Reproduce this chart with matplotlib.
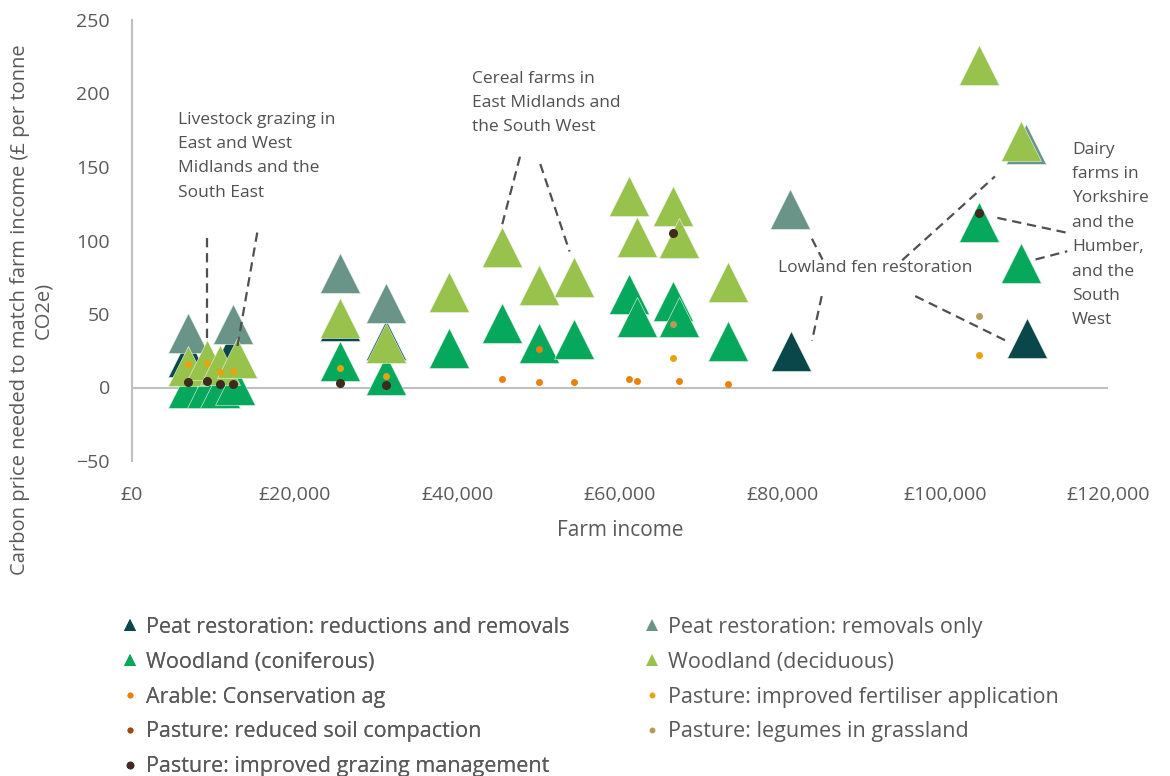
import matplotlib as mpl
import matplotlib.pyplot as plt
from matplotlib.lines import Line2D

DPI = 100
TEXT = '#595959'
mpl.rcParams['font.family'] = ['Open Sans', 'DejaVu Sans']

# farm income (GBP) and carbon price (GBP per tonne CO2e)
peat_rr_x = [6900, 12200, 25600, 31200, 81000, 110000]
peat_rr_y = [21, 24, 45.5, 32, 25, 34]

peat_rem_x = [6900, 12400, 25550, 31200, 80960, 109950]
peat_rem_y = [37, 43, 78, 57.5, 121.7, 165.6]

conif_x = [6900, 9200, 10800, 12700, 25550, 31200, 38940, 45450, 50000, 54300,
           61060, 62040, 66460, 67200, 73220, 104180, 109340]
conif_y = [0, 0, 0, 2, 17.7, 8.5, 26.6, 44, 30, 32.7,
           63.4, 47.7, 59, 47.7, 31.4, 112.5, 84.5]

decid_x = [6900, 9200, 10800, 12900, 25550, 31200, 38940, 45450, 50000, 54300,
           61060, 62040, 66460, 67200, 73220, 104180, 109340]
decid_y = [14.5, 18.5, 15, 20, 47, 30, 64.7, 95.4, 69.5, 75,
           130.4, 102.6, 123.4, 102, 72, 219.5, 168]

arable_x = [45450, 50000, 50000, 54300, 61060, 62040, 67200, 73220]
arable_y = [6, 26, 4, 3.5, 6, 4.3, 4.3, 2.7]

fert_x = [6900, 9200, 10800, 12400, 25550, 31200, 66460, 104180]
fert_y = [15.7, 16.8, 10.7, 11.1, 13.6, 7.5, 19.8, 21.8]

soil_x = []
soil_y = []

legume_x = [66460, 104180]
legume_y = [43, 48.4]

grazing_x = [6900, 9200, 10800, 12400, 25550, 31200, 66460, 104180]
grazing_y = [3.8, 4.1, 2.3, 2.3, 3.4, 1.5, 105, 119]

x_ticks = [0, 20000, 40000, 60000, 80000, 100000, 120000]
x_ticklabels = ['£0', '£20,000', '£40,000', '£60,000', '£80,000', '£100,000', '£120,000']
y_ticks = [-50, 0, 50, 100, 150, 200, 250]

# (label, x, y, colour, marker, size)
SERIES = [
    ('Peat restoration: reductions and removals', peat_rr_x, peat_rr_y, '#0A474B', '^', 28.5),
    ('Peat restoration: removals only', peat_rem_x, peat_rem_y, '#6A9488', '^', 28.5),
    ('Woodland (coniferous)', conif_x, conif_y, '#06A85C', '^', 28.5),
    ('Woodland (deciduous)', decid_x, decid_y, '#97C24B', '^', 28.5),
    ('Arable: Conservation ag', arable_x, arable_y, '#E8820C', 'o', 5),
    ('Pasture: improved fertiliser application', fert_x, fert_y, '#E8A30C', 'o', 5),
    ('Pasture: reduced soil compaction', soil_x, soil_y, '#A04A10', 'o', 5),
    ('Pasture: legumes in grassland', legume_x, legume_y, '#B59A5B', 'o', 5),
    ('Pasture: improved grazing management', grazing_x, grazing_y, '#3E2A1E', 'o', 6.5),
]

# annotation texts: (text, x, y)
NOTES = [
    ('Livestock grazing in\nEast and West\nMidlands and the\nSouth East', 5650, 157.3),
    ('Cereal farms in\nEast Midlands and\nthe South West', 41800, 193.6),
    ('Lowland fen restoration', 79400, 81),
    ('Dairy\nfarms in\nYorkshire\nand the\nHumber,\nand the\nSouth\nWest', 115600, 103.7),
]

# dashed leader lines: (x0, y0, x1, y1)
LEADERS = [
    (9200, 102, 9200, 30.8),
    (15400, 105.4, 12900, 26),
    (47700, 157, 45450, 109.5),
    (50200, 152, 53800, 92.5),
    (83600, 101.2, 84900, 87),
    (84800, 62.2, 83600, 31.7),
    (94700, 86.6, 106100, 143.6),
    (96300, 62.2, 107500, 31.7),
    (106400, 115.4, 115000, 105.2),
    (111100, 87.1, 115000, 92.7),
]


fig = plt.figure(figsize=(11.7, 7.76), dpi=DPI)
ax = fig.add_axes([132 / 1170, 1 - 461 / 776, (1108 - 132) / 1170, (461 - 20) / 776])

handles = []
for label, xs, ys, color, marker, size in SERIES:
    if marker == '^':
        ax.plot(xs, ys, linestyle='none', marker=marker, markersize=size,
                color=color, markeredgecolor='#EEF3EE', markeredgewidth=0.4)
        h = Line2D([], [], linestyle='none', marker='^', markersize=9,
                   color=color, markeredgewidth=0)
    else:
        ax.plot(xs, ys, linestyle='none', marker=marker, markersize=size,
                color=color, markeredgewidth=0, zorder=4)
        h = Line2D([], [], linestyle='none', marker='o', markersize=size * 0.85,
                   color=color, markeredgewidth=0)
    handles.append((h, label))

for x0, y0, x1, y1 in LEADERS:
    ax.plot([x0, x1], [y0, y1], color='#505050', lw=1.6, dashes=(4.2, 2.6), zorder=5)

for txt, x, y in NOTES:
    ax.text(x, y, txt, color='#505050', fontsize=12.5, ha='left', va='center',
            linespacing=1.7, zorder=6)

ax.set_xlim(0, 120000)
ax.set_ylim(-50, 250)
ax.set_xticks(x_ticks)
ax.set_xticklabels(x_ticklabels)
ax.set_yticks(y_ticks)
ax.tick_params(length=0, labelsize=14, colors=TEXT)
ax.tick_params(axis='x', pad=18)
ax.tick_params(axis='y', pad=16)
for side in ['top', 'right', 'bottom']:
    ax.spines[side].set_visible(False)
ax.spines['left'].set_color('#C0C0C0')
ax.spines['left'].set_linewidth(1.5)
ax.axhline(0, color='#C0C0C0', lw=1.5, zorder=0)

fig.text(620 / 1170, 1 - 531 / 776, 'Farm income', color=TEXT, fontsize=15,
         ha='center', va='center')
fig.text(32 / 1170, 1 - 310 / 776,
         'Carbon price needed to match farm income (£ per tonne\nCO2e)',
         color=TEXT, fontsize=14.5, ha='center', va='center', rotation=90,
         multialignment='center', linespacing=1.2)

col1 = [handles[i] for i in [0, 2, 4, 6, 8]]
col2 = [handles[i] for i in [1, 3, 5, 7]]
leg_kw = dict(frameon=False, fontsize=15.5, labelcolor=TEXT, handlelength=0.6,
              handletextpad=0.4, labelspacing=0.64, borderpad=0, borderaxespad=0)
leg1 = fig.legend([h for h, _ in col1], [l for _, l in col1], loc='upper left',
                  bbox_to_anchor=(124 / 1170, 1 - 617 / 776), **leg_kw)
fig.add_artist(leg1)
fig.legend([h for h, _ in col2], [l for _, l in col2], loc='upper left',
           bbox_to_anchor=(646 / 1170, 1 - 617 / 776), **leg_kw)

plt.savefig('out.png', dpi=DPI)
